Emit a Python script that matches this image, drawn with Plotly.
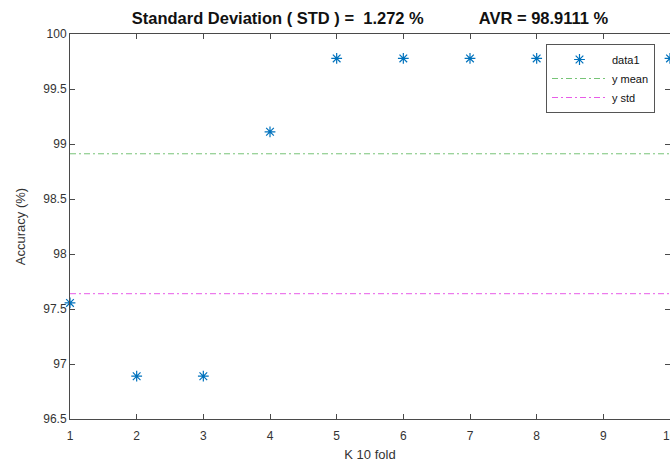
import plotly.graph_objects as go

folds = [1, 2, 3, 4, 5, 6, 7, 8, 9, 10]
accuracy = [97.5556, 96.8889, 96.8889, 99.1111, 99.7778, 99.7778, 99.7778, 99.7778, 99.7778, 99.7778]
y_mean = 98.9111
y_std_line = 97.6391
x_ticks = [1, 2, 3, 4, 5, 6, 7, 8, 9, 10]
y_ticks = [96.5, 97, 97.5, 98, 98.5, 99, 99.5, 100]

axis_col = "#4a4a4a"
font_fam = "Liberation Sans, Arial, sans-serif"
tick_col = "#333333"

fig = go.Figure()
fig.add_trace(go.Scatter(
    x=folds, y=accuracy, mode="markers", name="data1",
    marker=dict(symbol="asterisk-open", size=9, color="#0072BD",
                line=dict(color="#0072BD", width=1.2)),
    cliponaxis=False,
))
fig.add_trace(go.Scatter(
    x=[folds[0], folds[-1]], y=[y_mean, y_mean], mode="lines", name="y mean",
    line=dict(color="#77c477", width=1, dash="6px,3px,2px,3px"),
))
fig.add_trace(go.Scatter(
    x=[folds[0], folds[-1]], y=[y_std_line, y_std_line], mode="lines", name="y std",
    line=dict(color="#e85ce8", width=1, dash="6px,3px,2px,3px"),
))

sp = "&nbsp;"
title_txt = ("<b>Standard Deviation ( STD ) =" + sp * 2 + "1.272 %" + sp * 12 +
             "AVR = 98.9111 %</b>")

fig.update_layout(
    width=670, height=464,
    margin=dict(l=70, r=0, t=34, b=45),
    paper_bgcolor="white", plot_bgcolor="white",
    font=dict(family=font_fam, size=12, color=tick_col),
    title=dict(
        text=title_txt,
        x=(70 + 670) / 2 / 670, xanchor="center", y=1 - 18 / 464, yanchor="middle",
        font=dict(size=16.5, color="#111111", family=font_fam),
    ),
    xaxis=dict(
        range=[1, 10], tickvals=x_ticks, ticks="inside", ticklen=5, tickcolor=axis_col,
        showline=True, linecolor=axis_col, linewidth=1, mirror="ticks",
        showgrid=False, zeroline=False, ticklabelstandoff=6,
        title=dict(text="K 10 fold", font=dict(size=13, color=tick_col), standoff=7),
        tickfont=dict(size=12, color=tick_col),
    ),
    yaxis=dict(
        range=[96.5, 100], tickvals=y_ticks, ticktext=[str(v) for v in y_ticks],
        ticks="inside", ticklen=5, tickcolor=axis_col,
        showline=True, linecolor=axis_col, linewidth=1, mirror="ticks",
        showgrid=False, zeroline=False,
        title=dict(text="Accuracy (%)", font=dict(size=13, color=tick_col), standoff=14),
        tickfont=dict(size=12, color=tick_col),
    ),
    legend=dict(
        x=(655 - 70) / 600, xanchor="right",
        y=(419 - 44) / 385, yanchor="top",
        bgcolor="white", bordercolor="#555555", borderwidth=1,
        font=dict(size=11, color="#111111"),
        itemwidth=55, tracegroupgap=0,
    ),
    showlegend=True,
)

fig.add_annotation(
    x=10, xref="x", y=0, yref="paper", yanchor="top", yshift=-8,
    text=str(x_ticks[-1]), showarrow=False,
    font=dict(size=12, color=tick_col, family=font_fam),
)

fig.write_html("out.html")
